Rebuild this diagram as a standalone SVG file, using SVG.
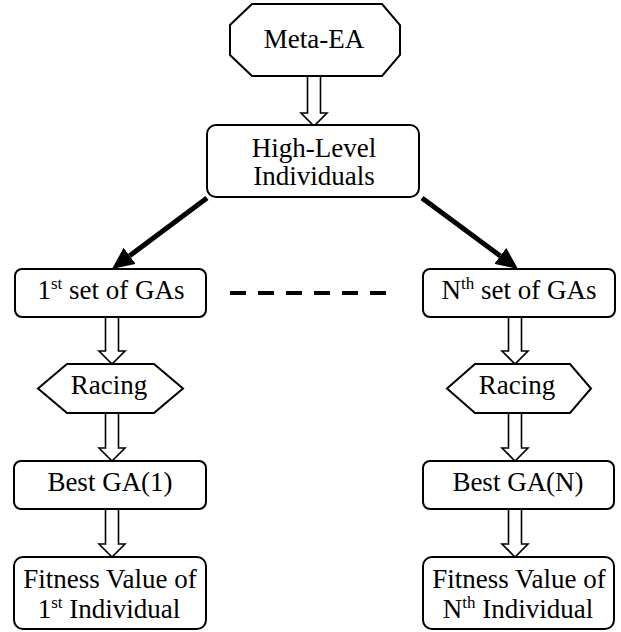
<svg xmlns="http://www.w3.org/2000/svg" width="621" height="632" viewBox="0 0 621 632">
<style>
.box{fill:#fff;stroke:#000;stroke-width:2}
.t{font-family:"Liberation Serif","Times New Roman",serif;font-size:27px;fill:#000;text-anchor:middle}
.sup{font-size:17px}
.ha{fill:#fff;stroke:#000;stroke-width:1.6;stroke-linejoin:miter}
.thick{stroke:#000;stroke-width:5;fill:none}
.dash{stroke:#000;stroke-width:4;stroke-dasharray:16 12}
</style>
<defs>
<path id="harrow" d="M-6.5,-50 V-13 H-13 L0,0 L13,-13 H6.5 V-50"/>
<marker id="head" markerUnits="userSpaceOnUse" markerWidth="22" markerHeight="20" refX="0" refY="10" orient="auto">
<path d="M0,0 L22,10 L0,20 z" fill="#000"/>
</marker>
</defs>
<g id="connectors">
<use href="#harrow" class="ha" transform="translate(314,126)"/>
<use href="#harrow" class="ha" transform="translate(112,364)"/>
<use href="#harrow" class="ha" transform="translate(112,461)"/>
<use href="#harrow" class="ha" transform="translate(112,557)"/>
<use href="#harrow" class="ha" transform="translate(515,364)"/>
<use href="#harrow" class="ha" transform="translate(515,461)"/>
<use href="#harrow" class="ha" transform="translate(515,557)"/>
<line class="thick" x1="207" y1="198" x2="129.6" y2="255.8" marker-end="url(#head)"/>
<line class="thick" x1="422" y1="198" x2="500.3" y2="255.9" marker-end="url(#head)"/>
<line class="dash" x1="230" y1="293" x2="386" y2="293"/>
</g>
<g id="meta-ea">
<polygon class="box" points="252,4 382,4 400,25 400,55 382,76 252,76 230,55 230,25"/>
<text class="t" x="314" y="48">Meta-EA</text>
</g>
<g id="high-level">
<rect class="box" x="207" y="125" width="212" height="72" rx="9"/>
<text class="t" x="314" y="157">High-Level</text>
<text class="t" x="314" y="185">Individuals</text>
</g>
<g id="set1">
<rect class="box" x="15" y="269" width="191" height="48" rx="7"/>
<text class="t" x="111" y="299">1<tspan class="sup" dy="-10">st</tspan><tspan dy="10"> set of GAs</tspan></text>
</g>
<g id="setN">
<rect class="box" x="423" y="269" width="192" height="48" rx="7"/>
<text class="t" x="519" y="299">N<tspan class="sup" dy="-10">th</tspan><tspan dy="10"> set of GAs</tspan></text>
</g>
<g id="racing1">
<polygon class="box" points="67,364 154,364 183,388.5 154,413 67,413 38,388.5"/>
<text class="t" x="109" y="394">Racing</text>
</g>
<g id="racingN">
<polygon class="box" points="475,364 570,364 591,388.5 570,413 475,413 447,388.5"/>
<text class="t" x="517" y="394">Racing</text>
</g>
<g id="best1">
<rect class="box" x="14" y="461" width="192" height="48" rx="7"/>
<text class="t" x="110" y="491">Best GA(1)</text>
</g>
<g id="bestN">
<rect class="box" x="423" y="461" width="191" height="48" rx="7"/>
<text class="t" x="518" y="491">Best GA(N)</text>
</g>
<g id="fitness1">
<rect class="box" x="14" y="557" width="192" height="72" rx="9"/>
<text class="t" x="110" y="588">Fitness Value of</text>
<text class="t" x="109" y="618">1<tspan class="sup" dy="-10">st</tspan><tspan dy="10"> Individual</tspan></text>
</g>
<g id="fitnessN">
<rect class="box" x="423" y="557" width="191" height="72" rx="9"/>
<text class="t" x="519" y="588">Fitness Value of</text>
<text class="t" x="518" y="618">N<tspan class="sup" dy="-10">th</tspan><tspan dy="10"> Individual</tspan></text>
</g>
</svg>
